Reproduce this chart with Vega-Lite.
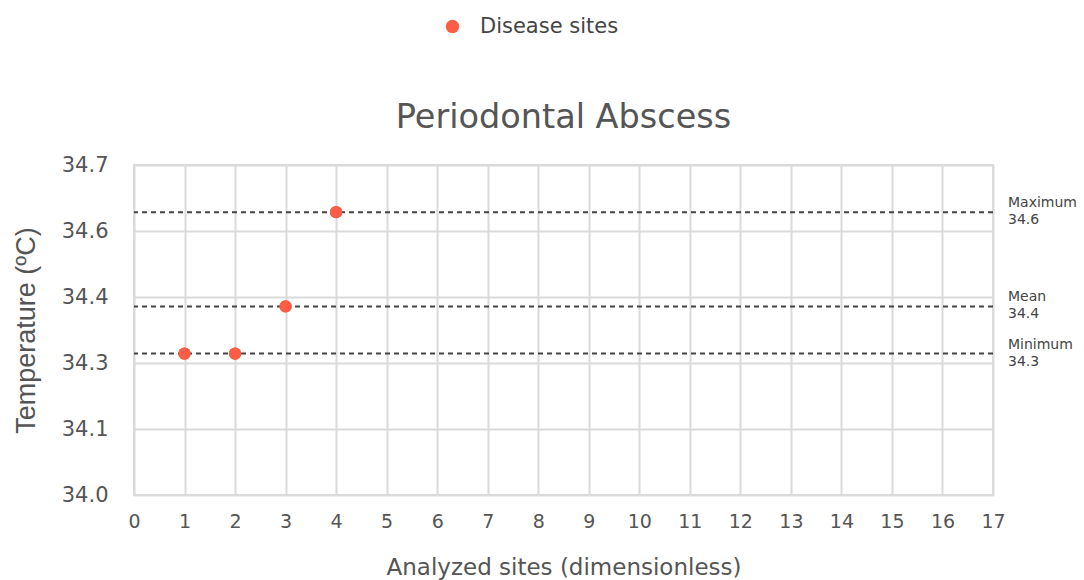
{
  "$schema": "https://vega.github.io/schema/vega-lite/v6.json",
  "width": 859,
  "height": 330,
  "autosize": {"type": "none"},
  "padding": {"left": 134, "top": 165, "right": 91, "bottom": 85},
  "background": "white",
  "config": {
    "font": "DejaVu Sans",
    "view": {"stroke": "#dadada", "strokeWidth": 2},
    "axis": {"gridColor": "#dadada", "gridWidth": 2, "domain": false, "ticks": false, "labelColor": "#555", "titleColor": "#555", "titleFontWeight": "normal"}
  },
  "title": {"text": "Periodontal Abscess", "fontSize": 33.5, "fontWeight": "normal", "color": "#555", "offset": 30, "dy": 149, "anchor": "middle"},
  "datasets": {
    "points": [
      {"site": 1, "temp": 34.3, "series": "Disease sites"},
      {"site": 2, "temp": 34.3, "series": "Disease sites"},
      {"site": 3, "temp": 34.4, "series": "Disease sites"},
      {"site": 4, "temp": 34.6, "series": "Disease sites"}
    ],
    "stats": [
      {"stat": "Maximum", "value": 34.6},
      {"stat": "Mean", "value": 34.4},
      {"stat": "Minimum", "value": 34.3}
    ]
  },
  "layer": [
    {
      "data": {"name": "points"},
      "mark": {"type": "circle", "size": 150, "opacity": 1},
      "encoding": {
        "x": {
          "field": "site", "type": "quantitative",
          "scale": {"domain": [0, 17], "nice": false, "zero": false},
          "axis": {"title": "Analyzed sites (dimensionless)", "grid": true, "values": [0,1,2,3,4,5,6,7,8,9,10,11,12,13,14,15,16,17], "labelFontSize": 19, "labelPadding": 17, "titleFontSize": 23, "titlePadding": 25, "labelFlush": false}
        },
        "y": {
          "field": "temp", "type": "quantitative",
          "scale": {"domain": [34.0, 34.7], "nice": false, "zero": false},
          "axis": {"title": "Temperature (ºC)", "titleFont": "Liberation Sans", "grid": true, "values": [34.0, 34.14, 34.28, 34.42, 34.56, 34.7], "format": ".1f", "labelFontSize": 21, "labelPadding": 26, "titleFontSize": 27, "titlePadding": 21, "labelFlush": false}
        },
        "color": {
          "field": "series", "type": "nominal",
          "scale": {"range": ["#fd5c45"]},
          "legend": {"title": null, "orient": "none", "legendX": 308, "legendY": -149, "labelFontSize": 21, "labelColor": "#444", "symbolType": "circle", "symbolSize": 180, "symbolOpacity": 1, "labelOffset": 17}
        }
      }
    },
    {
      "data": {"name": "stats"},
      "mark": {"type": "rule", "stroke": "#444", "strokeWidth": 2, "strokeDash": [5, 4]},
      "encoding": {
        "y": {"field": "value", "type": "quantitative"}
      }
    },
    {
      "data": {"name": "stats"},
      "mark": {"type": "text", "align": "left", "baseline": "middle", "dx": 15, "dy": -9, "fontSize": 14, "color": "#444"},
      "encoding": {
        "x": {"datum": 17},
        "y": {"field": "value", "type": "quantitative"},
        "text": {"field": "stat"}
      }
    },
    {
      "data": {"name": "stats"},
      "mark": {"type": "text", "align": "left", "baseline": "middle", "dx": 15, "dy": 8, "fontSize": 14, "color": "#444"},
      "encoding": {
        "x": {"datum": 17},
        "y": {"field": "value", "type": "quantitative"},
        "text": {"field": "value", "type": "quantitative", "format": ".1f"}
      }
    },
    {
      "data": {"name": "points"},
      "mark": {"type": "circle", "size": 150, "opacity": 1, "color": "#fd5c45"},
      "encoding": {
        "x": {"field": "site", "type": "quantitative"},
        "y": {"field": "temp", "type": "quantitative"}
      }
    }
  ]
}
